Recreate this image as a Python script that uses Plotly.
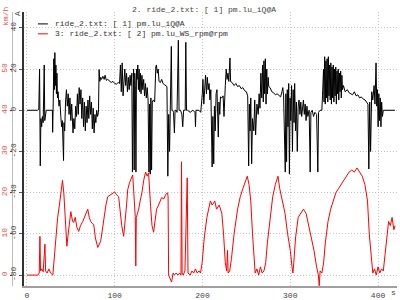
import plotly.graph_objects as go

# ---------------- data ----------------
t_black = [0,12,13.5,14.4,15.2,15.9,16.8,17.6,18.5,19.7,20.3,21,22,29,29.3,30,30.6,31.2,31.8,32.4,33,33.6,34.2,34.8,35.5,36.5,37.5,38.6,39.5,40.3,41.2,41.7,42.2,43,44,45,46,47,48,49,50,51,52.5,53.5,54.5,55.5,56.5,57.5,58.5,59.5,60.5,61.5,62.5,63.5,64.5,65.5,66.5,67.5,68.5,69.5,70.5,71.5,72.5,73.5,74.5,75.5,76.5,77.5,78.5,79.5,80.5,81.5,82.2,83,84,85,86.5,88,89,90.5,92,94,96,98,100,102,104,105.5,106.5,107.5,108.5,109.5,110.5,111.5,112.5,113.5,114.5,115.5,116.5,117.5,118.5,119.5,120.2,120.8,121.5,122.2,122.8,123.5,124.2,124.8,125.5,126.3,127,127.8,128.5,129.3,130,131,132,133,134,135,136,137,138,139,139.7,140.5,141.2,142,142.8,144,145.5,146.8,147.5,148.5,149.5,150.5,152,153.5,155,156.5,158,159.5,160.5,161.5,162.5,163.5,164.5,165.2,166,167,168,168.8,170,171,172.5,173.3,175,176.5,177.5,178.5,180.3,181,181.8,183,186,189,191.5,192,192.6,196,198,199.8,200.5,201.5,202.5,203.5,204.5,205.5,206.5,207.5,208.5,209.5,211,211.8,212.8,213.6,214.5,215.5,216.5,217.3,218,218.8,219.7,220.5,222,223.5,224.5,226,227,228,229,230,231.3,232,233.7,236,238,240,242,244,246,248,250,251.5,252.6,253.4,254.2,255,256,257,258.5,259.5,260.5,262,263.5,264.5,265.5,266.5,267.5,268.5,269.3,270,270.8,271.6,272.4,273.2,274,274.8,275.5,277,279,281,283,285,287,289,290.5,291.5,292.4,294.3,295,295.8,296.6,297.4,298.2,299,299.8,300.6,301.5,302.5,303.3,304.3,305,306,307,308,309,310,311,312,313,314,315,316,317,318,319,320,321.5,322.7,323.5,325,326.5,328,330,331.4,332.2,334,336,336.7,337.9,338.5,339.2,339.9,340.6,341.3,342,342.7,343.4,344.1,344.8,345.5,346.2,346.9,347.6,348.3,349,349.7,350.4,351.1,351.8,352.5,353.2,353.9,354.6,355.3,356,356.7,357.4,358.1,358.8,359.5,360.6,362.5,365,367,369,371,373,375,377,379,381,383,385.2,387,388.5,389.5,390.5,391.5,392.8,394,395.5,396.5,397.7,398.5,399.3,400.1,400.9,401.7,402.5,403.3,404.1,405,406,419.3]
a_black = [0,0,0.5,20,-27,-4,-8,-3,-6,22,-5,-2,0,0,-10.7,5,25,10,28,12,22,8,18,6,9,2,5,-3,-8,-5,-13,-24.4,-6,-10,4,10,2,8,-2,6,-5,3,-11,-4,-9,2,-3,8,-2,11,3,10,-4,6,-8,4,-10,2,-6,5,-4,7,-2,4,-9,1,-11,-2,-6,0,-3,-1,19.8,14,16,15,16.5,15,17,14.5,15,14,13.5,14,13,12.7,13.5,13,22,9,23,7,15,20,12,18,9,16,10,17,12,18,-30,16,20,-29,18,12,-30,20,15,22,10,20,9,18,8,17,10,15,7,13,6,11,5,-30,3,-31,6,-29,4,5,4,21,22,18,20,14,13.5,15,13,12.5,12,11.5,-32,-2,-20,-1,31,0,0,-1,-11,0,0,-1,34,0,0,-2,-8,0,0,33,0,0,-1,0,-1,-8,0,0,-1,8,15,3,14,17,8,16,10,13,5,10,-27.5,-3,-26,2,-10,8,10,-2,-13,4,-2,6.5,6,7,-3,12,20,15,18,14,25.4,14,13.5,12,13,11.5,12,10.5,11,9.5,9,7,-27,3,-10,6,-26,-4,-10,5,-12,3,-2,8,1,18,6,22,4,24,8,25,3,20,8,16,11.5,11,9,8.5,7.5,8,7,6.5,9,11,7,-30,8,-25,10,-8,13,-31,6,-5,12,-20,10,-6,13,-10,4,-20,2,5,-2,4,-3,2,5,-2,3,-5,2,-3,0,-30,-1,0,-3,-1,-2,-30,-1,0,0,7,20,4,26,3,24,6,25,4,26,7,22,5,23,3,21,6,22,4,20,7,21,3,19,8,20,5,18,9,19,6,17,10,12,9,10,8.5,8,7.5,9,7,7.5,6,6.5,5.5,5,4,3,-28.5,4,-20,9,5,12,3,23,2,10,-8,8,-5,6,-8,4,-3,0,0]

t_red = [0,12.5,14,14.8,15.5,17,18.5,20.5,21.3,23,25,27,29.5,31,33,35,37,39,40.5,42,44,45.5,47,50,52,53.4,55,57,59,61,63.6,66,69.3,71,72.7,74.5,76.1,78,80.7,84,87,90,92,95,97.7,100,102,104.5,106,108,110.2,112,113.5,114.8,117,120.5,122,123.4,124,124.6,126,127.3,129,131,133,135.2,137,138.6,140.9,142.5,144.3,146,147.7,150,153.4,156,158,160.2,160.8,161.4,163,164.8,166.5,168,170,172,174,175.5,176.1,176.8,178,180,182.6,183.5,186,188,190,192,194,196,197.7,199.6,202,205,209,211,214,216,219,222,224,226,227.5,228.5,229.2,231,233,236,240,243,246,249,251,253,255,257,259,260,262,264,266,268,270,272,274,277,280,283,286,288,291,294,297,300,302,303,304,306,309,312,315,318,321,324,327,330,332,333,334,336,338,340,343,346,349,352,355,358,361,364,367,370,373,376,379,382,385,388,390,392,394,396,398,400,402,404,406,408,410,412,414,416,418,419.3]
v_red = [0,0,0.5,9.4,1,1.5,0.8,7.5,1,0.5,1.5,0.5,0,4,9,14,17,21,23,20,14,7,10,15.4,13,12.8,14,11.5,10.6,12,13,14.5,16,14,13,12.5,12.3,9,6.7,8.2,13,17,19,19.5,20,20.2,19.5,19,16,12,9.4,13,17,20.7,22.5,24.3,20,14.2,2.2,14,15,16,18,20,23,25,24,24.8,16.6,12,10.4,13,16,17,18.8,18.5,19.5,20,19,0,-1,-1.7,0.5,0,0.5,0,0.5,0,27.5,0.5,0,1,23.6,0.5,0,1,0.5,1.5,0.5,1,0.5,3,9,14,18,17,18,16,17,15,10,3,1,6,0.5,1,4,10,16,19,21,23,24,22,18,10,3,0.5,1.5,0,2,0.5,1,3,8,14,19,22,24,21,18,15,10,6,2,0.5,3,9,14,15,16,15,12,9,6,2,0,-2.6,1,0.5,3,8,13,16,18,20,21,22,23,24,25,25.5,25,26,25,24,22,18,10,4,0.5,1.5,0,2,0.5,1.5,1,5,10,13,12,14,11,12]

x_ticks = [0, 100, 200, 300, 400]
a_ticks = [-80, -60, -40, -20, 0, 20, 40]
kmh_ticks = [0, 10, 20, 30, 40, 50]

title_text = "2. ride_2.txt: [ 1] pm.lu_iQ@A"
legend_names = ["ride_2.txt: [ 1] pm.lu_iQ@A", "3: ride_2.txt: [ 2] pm.lu_WS_rpm@rpm"]

# ---------------- layout geometry (pixels) ----------------
W, H = 400, 300
ML, MR, MT, MB = 0, 3, 12, 12
PW = W - ML - MR
PH = H - MT - MB
def px(x):
    return (x - ML) / PW
def py(y):
    return (H - MB - y) / PH

FONT = "Liberation Mono, DejaVu Sans Mono, monospace"
RED = "#ff0000"
GRID = "#c4c4c4"
GDASH = "1px,2px"

a_per_px = 20 / 41.5
a_top = (111 - MT) * a_per_px
a_bot = -(H - MB - 111) * a_per_px
kmh = lambda a: (a + 80) / 2

x_left_px = 23
s_per_px = 100 / 88
x_lo = (x_left_px - 26) * s_per_px
x_hi = (W - MR - 26) * s_per_px

fig = go.Figure()
fig.add_trace(go.Scatter(x=t_black, y=a_black, mode="lines",
                         line=dict(color="black", width=1), name=legend_names[0],
                         yaxis="y", showlegend=False))
fig.add_trace(go.Scatter(x=t_red, y=v_red, mode="lines",
                         line=dict(color=RED, width=1), name=legend_names[1],
                         yaxis="y2", showlegend=False))

fig.update_layout(
    width=W, height=H,
    margin=dict(l=ML, r=MR, t=MT, b=MB, pad=0),
    paper_bgcolor="white", plot_bgcolor="white",
    font=dict(family=FONT, size=8, color="#444"),
    showlegend=False,
    xaxis=dict(domain=[px(x_left_px), 1], range=[x_lo, x_hi],
               tickvals=x_ticks, ticktext=[str(v) for v in x_ticks],
               showgrid=True, gridcolor=GRID, griddash=GDASH, gridwidth=1,
               zeroline=False, showline=True, linecolor="#a0a0a0", linewidth=2,
               ticks="", tickfont=dict(size=8, color="#444")),
    yaxis=dict(range=[a_bot, a_top], tickvals=a_ticks,
               ticktext=[str(v) for v in a_ticks], tickangle=-90,
               showgrid=True, gridcolor=GRID, griddash=GDASH, gridwidth=1,
               zeroline=False, showline=True, linecolor="#333", linewidth=1.5,
               ticks="outside", ticklen=3, tickcolor="#555",
               tickfont=dict(size=8, color="#444")),
    yaxis2=dict(range=[kmh(a_bot), kmh(a_top)], overlaying="y", side="left",
                anchor="free", position=px(11), tickvals=kmh_ticks,
                ticktext=[str(v) for v in kmh_ticks], tickangle=-90,
                showgrid=False, zeroline=False, showline=True,
                linecolor="#bbbbbb", linewidth=1,
                ticks="outside", ticklen=2, tickcolor=RED,
                tickfont=dict(size=8, color="#e05050")),
)

shapes = [
    dict(type="rect", xref="paper", yref="paper", layer="between",
         x0=px(34), x1=px(215), y0=py(40), y1=py(17),
         fillcolor="white", line=dict(width=0)),
    dict(type="line", xref="paper", yref="paper", x0=px(37), x1=px(47),
         y0=py(24), y1=py(24), line=dict(color="black", width=1)),
    dict(type="line", xref="paper", yref="paper", x0=px(37), x1=px(47),
         y0=py(34), y1=py(34), line=dict(color=RED, width=1)),
]
fig.update_layout(shapes=shapes)

ann = [
    dict(text=title_text, x=px(204), y=py(9), xref="paper", yref="paper",
         showarrow=False, xanchor="center", yanchor="middle",
         font=dict(size=8, color="#444", family=FONT)),
    dict(text=legend_names[0], x=px(52), y=py(24), xref="paper", yref="paper",
         showarrow=False, xanchor="left", yanchor="middle",
         font=dict(size=8, color="#333", family=FONT)),
    dict(text=legend_names[1], x=px(52), y=py(34), xref="paper", yref="paper",
         showarrow=False, xanchor="left", yanchor="middle",
         font=dict(size=8, color="#333", family=FONT)),
    dict(text="A", x=px(17), y=py(13), xref="paper", yref="paper",
         showarrow=False, textangle=-90, xanchor="center", yanchor="middle",
         font=dict(size=8, color="#444", family=FONT)),
    dict(text="km/h", x=px(5), y=py(16), xref="paper", yref="paper",
         showarrow=False, textangle=-90, xanchor="center", yanchor="middle",
         font=dict(size=8, color="#e05050", family=FONT)),
    dict(text="s", x=px(393), y=py(295), xref="paper", yref="paper",
         showarrow=False, xanchor="center", yanchor="middle",
         font=dict(size=8, color="#444", family=FONT)),
]
fig.update_layout(annotations=ann)

fig.write_html("out.html")
